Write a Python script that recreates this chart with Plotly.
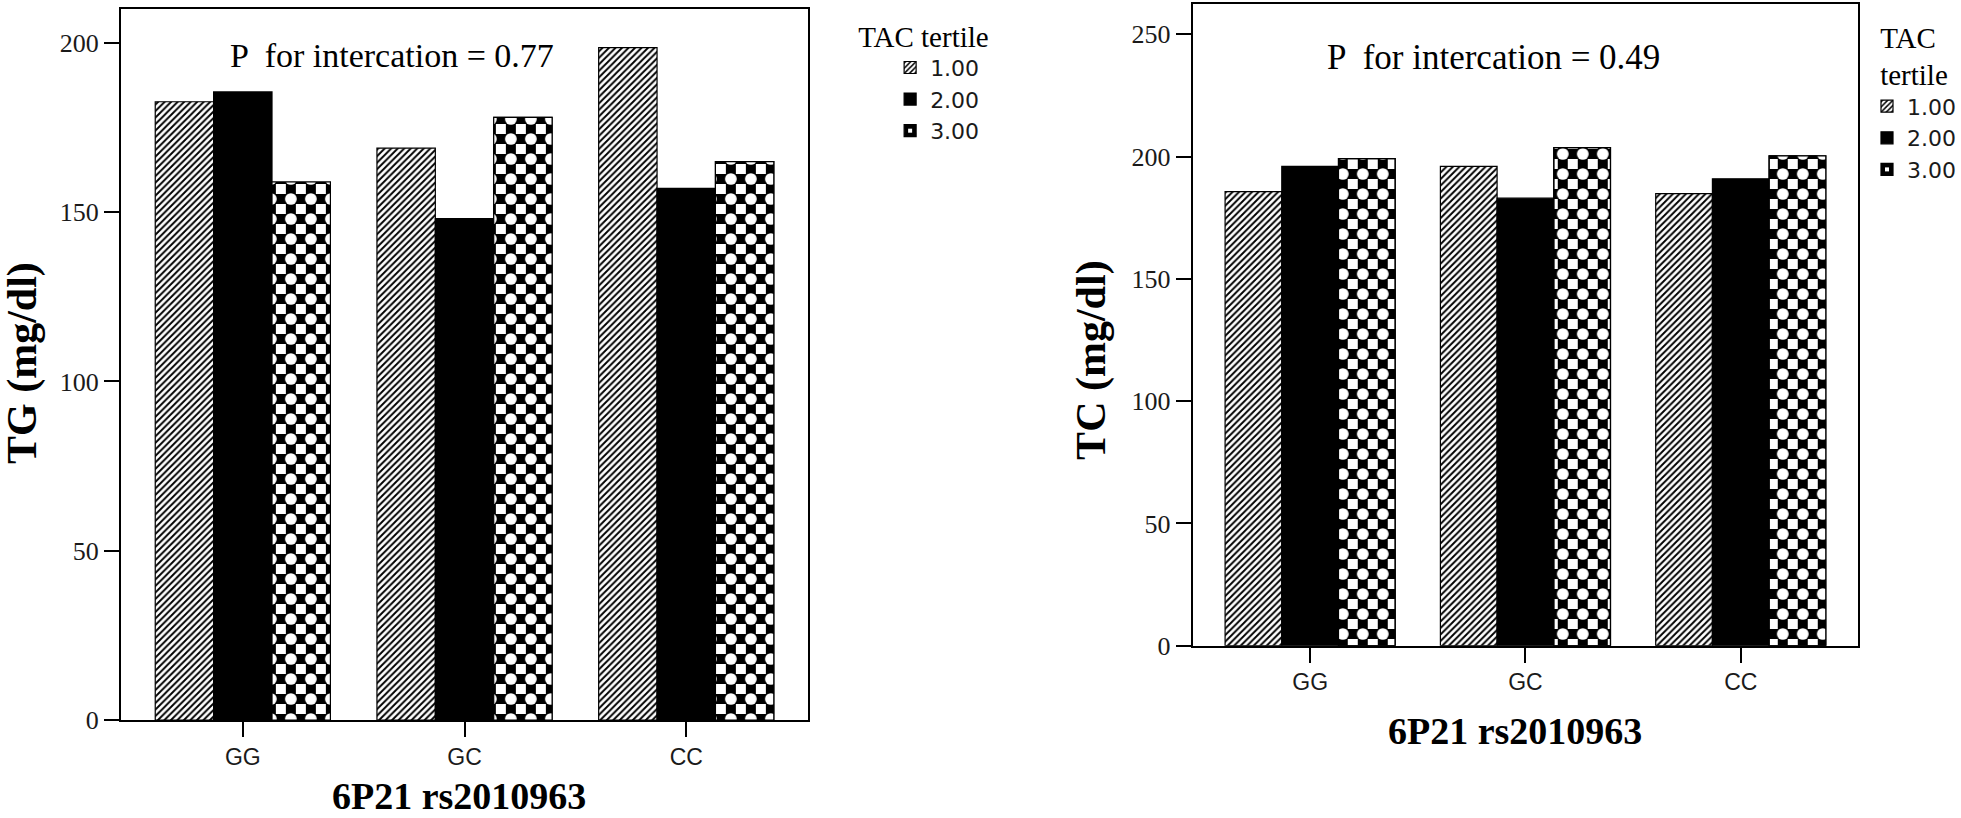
import plotly.graph_objects as go

# ---- data ----
categories = ["GG", "GC", "CC"]
tertiles = ["1.00", "2.00", "3.00"]
tg_t1 = [182.6, 168.9, 198.6]
tg_t2 = [185.5, 148.1, 157.0]
tg_t3 = [158.9, 178.0, 164.9]
tc_t1 = [185.7, 196.0, 184.9]
tc_t2 = [196.0, 183.0, 190.9]
tc_t3 = [199.2, 203.7, 200.3]
y_ticks_tg = [0, 50, 100, 150, 200]
y_ticks_tc = [0, 50, 100, 150, 200, 250]

W, H = 1961, 818
SERIF = "Liberation Serif, Times New Roman, serif"
SANS = "Liberation Sans, Arial, sans-serif"
ITEM = "DejaVu Sans, sans-serif"

def px(x):
    return x / W

def py(y):
    return 1 - y / H

fig = go.Figure()

def add_panel(vals, xa, ya, leg):
    hatch = dict(shape="/", fgcolor="black", bgcolor="white", size=4.6, solidity=0.42, fgopacity=1)
    checker = dict(shape="+", fgcolor="black", bgcolor="white", size=20, solidity=0.75, fgopacity=1)
    dots = dict(shape=".", fgcolor="white", bgcolor="rgba(0,0,0,0)", size=20, solidity=0.27,
                fgopacity=1)
    line = dict(color="black", width=1.2)
    fig.add_trace(go.Bar(x=categories, y=vals[0], name=tertiles[0], xaxis=xa, yaxis=ya,
                         offsetgroup="a", legend=leg,
                         marker=dict(color="white", pattern=hatch, line=line)))
    fig.add_trace(go.Bar(x=categories, y=vals[1], name=tertiles[1], xaxis=xa, yaxis=ya,
                         offsetgroup="b", legend=leg,
                         marker=dict(color="black", line=line)))
    fig.add_trace(go.Bar(x=categories, y=vals[2], name=tertiles[2], xaxis=xa, yaxis=ya,
                         offsetgroup="c", legend=leg,
                         marker=dict(color="white", pattern=checker, line=line)))
    fig.add_trace(go.Bar(x=categories, y=vals[2], name=tertiles[2], xaxis=xa, yaxis=ya,
                         offsetgroup="c", legend=leg, showlegend=False, hoverinfo="skip",
                         marker=dict(color="rgba(0,0,0,0)", pattern=dots, line=line)))

add_panel([tg_t1, tg_t2, tg_t3], "x", "y", "legend")
add_panel([tc_t1, tc_t2, tc_t3], "x2", "y2", "legend2")

axis_common = dict(showline=True, linecolor="black", linewidth=2, mirror=True,
                   ticks="outside", ticklen=15, tickwidth=2, tickcolor="black",
                   showgrid=False, zeroline=False, automargin=False)

fig.update_layout(
    width=W, height=H,
    margin=dict(l=0, r=0, t=0, b=0),
    paper_bgcolor="white", plot_bgcolor="white",
    barmode="group", bargap=0.21, bargroupgap=0,
    xaxis=dict(domain=[px(121), px(809)], range=[-0.55, 2.55], type="category",
               tickfont=dict(family=SANS, size=23, color="#1a1a1a"), anchor="y", **axis_common),
    yaxis=dict(domain=[py(720), py(9)], range=[0, 210], tickvals=y_ticks_tg,
               tickfont=dict(family=SERIF, size=26, color="#1a1a1a"), anchor="x", **axis_common),
    xaxis2=dict(domain=[px(1194), px(1860)], range=[-0.545, 2.545], type="category",
                tickfont=dict(family=SANS, size=23, color="#1a1a1a"), anchor="y2", **axis_common),
    yaxis2=dict(domain=[py(645.7), py(4)], range=[0, 262.4], tickvals=y_ticks_tc,
                tickfont=dict(family=SERIF, size=26, color="#1a1a1a"), anchor="x2", **axis_common),
    legend=dict(x=px(857), y=py(9), xanchor="left", yanchor="top", indentation=34,
                title=dict(text="TAC tertile", font=dict(family=SERIF, size=29, color="black")),
                font=dict(family=ITEM, size=22, color="#1a1a1a"),
                bgcolor="rgba(0,0,0,0)", tracegroupgap=0, itemclick=False),
    legend2=dict(x=px(1869), y=py(10), xanchor="left", yanchor="top",
                 title=dict(text="TAC<br>tertile", side="top center",
                            font=dict(family=SERIF, size=29, color="black")),
                 font=dict(family=ITEM, size=22, color="#1a1a1a"),
                 bgcolor="rgba(0,0,0,0)", tracegroupgap=0, itemclick=False),
    showlegend=True,
)

ann_common = dict(xref="paper", yref="paper", showarrow=False, xanchor="center", yanchor="middle")
fig.add_annotation(text="P  for intercation = 0.77", x=px(392), y=py(56),
                   font=dict(family=SERIF, size=34, color="black"), **ann_common)
fig.add_annotation(text="P  for intercation = 0.49", x=px(1495), y=py(58),
                   font=dict(family=SERIF, size=35, color="black"), **ann_common)
fig.add_annotation(text="<b>TG (mg/dl)</b>", x=px(22), y=py(363), textangle=-90,
                   font=dict(family=SERIF, size=42, color="black"), **ann_common)
fig.add_annotation(text="<b>TC (mg/dl)</b>", x=px(1092), y=py(360), textangle=-90,
                   font=dict(family=SERIF, size=42, color="black"), **ann_common)
fig.add_annotation(text="<b>6P21 rs2010963</b>", x=px(459), y=0, xref="paper", yref="paper",
                   showarrow=False, xanchor="center", yanchor="bottom", borderpad=0,
                   font=dict(family=SERIF, size=38, color="black"))
fig.add_annotation(text="<b>6P21 rs2010963</b>", x=px(1517), y=py(731),
                   font=dict(family=SERIF, size=38, color="black"), **ann_common)

fig.write_html("out.html", config={"displayModeBar": False},
               post_script="document.body.style.margin='0';")
